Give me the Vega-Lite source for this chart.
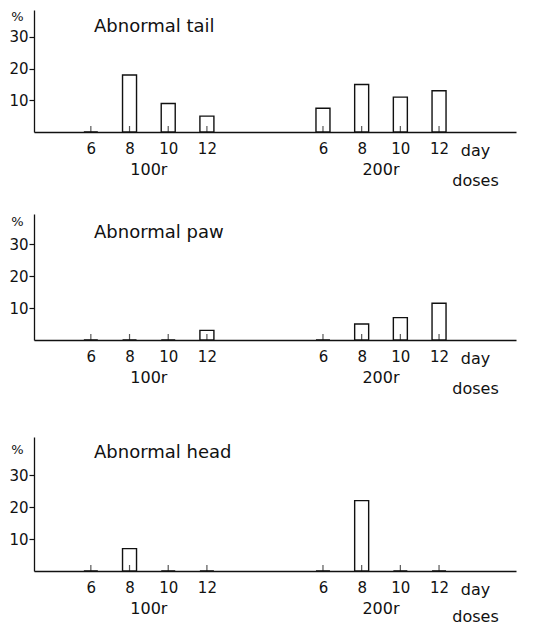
{
  "$schema": "https://vega.github.io/schema/vega-lite/v6.json",
  "padding": {"left": 8, "top": 10, "right": 5, "bottom": 0},
  "background": "white",
  "config": {
    "font": "DejaVu Sans",
    "view": {"stroke": null},
    "axis": {"grid": false, "domainColor": "#111", "tickColor": "#111", "labelColor": "#111", "titleColor": "#111", "labelFont": "DejaVu Sans", "titleFont": "DejaVu Sans", "titleFontWeight": "normal", "domainWidth": 1.3, "tickWidth": 1.2},
    "text": {"font": "DejaVu Sans", "fontSize": 16, "color": "#111"},
    "title": {"font": "DejaVu Sans", "fontSize": 18, "fontWeight": "normal", "color": "#111"}
  },
  "datasets": {
    "abn": [
      {"abnormality": "tail", "dose": "100r", "day": 6, "pct": 0},
      {"abnormality": "tail", "dose": "100r", "day": 8, "pct": 18},
      {"abnormality": "tail", "dose": "100r", "day": 10, "pct": 9},
      {"abnormality": "tail", "dose": "100r", "day": 12, "pct": 5},
      {"abnormality": "tail", "dose": "200r", "day": 6, "pct": 7.5},
      {"abnormality": "tail", "dose": "200r", "day": 8, "pct": 15},
      {"abnormality": "tail", "dose": "200r", "day": 10, "pct": 11},
      {"abnormality": "tail", "dose": "200r", "day": 12, "pct": 13},
      {"abnormality": "paw", "dose": "100r", "day": 6, "pct": 0},
      {"abnormality": "paw", "dose": "100r", "day": 8, "pct": 0},
      {"abnormality": "paw", "dose": "100r", "day": 10, "pct": 0},
      {"abnormality": "paw", "dose": "100r", "day": 12, "pct": 3},
      {"abnormality": "paw", "dose": "200r", "day": 6, "pct": 0},
      {"abnormality": "paw", "dose": "200r", "day": 8, "pct": 5},
      {"abnormality": "paw", "dose": "200r", "day": 10, "pct": 7},
      {"abnormality": "paw", "dose": "200r", "day": 12, "pct": 11.5},
      {"abnormality": "head", "dose": "100r", "day": 6, "pct": 0},
      {"abnormality": "head", "dose": "100r", "day": 8, "pct": 7},
      {"abnormality": "head", "dose": "100r", "day": 10, "pct": 0},
      {"abnormality": "head", "dose": "100r", "day": 12, "pct": 0},
      {"abnormality": "head", "dose": "200r", "day": 6, "pct": 0},
      {"abnormality": "head", "dose": "200r", "day": 8, "pct": 22},
      {"abnormality": "head", "dose": "200r", "day": 10, "pct": 0},
      {"abnormality": "head", "dose": "200r", "day": 12, "pct": 0}
    ]
  },
  "data": {"name": "abn"},
  "transform": [
    {"calculate": "(datum.dose == '200r' ? 6 : 0) + (datum.day - 6) / 2", "as": "pos"}
  ],
  "resolve": {"scale": {"y": "independent", "x": "independent"}},
  "spacing": 41,
  "vconcat": [
    {
      "spacing": 26,
      "resolve": {"scale": {"y": "independent", "x": "independent"}},
      "vconcat": [
        {
          "width": 482, "height": 122,
          "title": {"text": "Abnormal tail", "anchor": "start", "frame": "group", "offset": -40, "dx": 60, "baseline": "alphabetic"},
          "transform": [{"filter": "datum.abnormality == 'tail'"}],
          "layer": [
            {
              "mark": {"type": "bar", "size": 14, "fill": "white", "stroke": "#111", "strokeWidth": 1.4},
              "encoding": {
                "x": {"field": "pos", "type": "quantitative", "scale": {"domain": [-1.34, 10.86], "nice": false, "zero": false},
                  "axis": {"values": [0, 1, 2, 3, 6, 7, 8, 9], "labelExpr": "['6','8','10','12'][datum.value % 6]", "ticks": false, "labelPadding": 9, "labelFontSize": 15, "title": ["day", "doses"], "titleFontSize": 16, "titleX": 441, "titleY": 23, "titleAlign": "center", "titleBaseline": "alphabetic", "titleLineHeight": 30}},
                "y": {"field": "pct", "type": "quantitative", "scale": {"domain": [0, 38.5], "nice": false},
                  "axis": {"values": [10, 20, 30], "tickSize": 5, "labelPadding": 1, "labelFontSize": 15, "title": "%", "titleAngle": 0, "titleX": -17, "titleY": 6, "titleAlign": "center", "titleBaseline": "middle", "titleFontSize": 13}}
              }
            },
            {
              "mark": {"type": "tick", "orient": "vertical", "size": 6, "thickness": 1.2, "yOffset": -3, "color": "#111"},
              "encoding": {"x": {"field": "pos", "type": "quantitative"}, "y": {"datum": 0}}
            },
            {
              "mark": {"type": "text", "dy": 38, "baseline": "middle", "align": "center"},
              "encoding": {
                "x": {"aggregate": "mean", "field": "pos", "type": "quantitative"},
                "y": {"datum": 0},
                "yOffset": {"condition": {"test": "datum.dose == '200r'", "value": 10}, "value": 0},
                "text": {"field": "dose"}
              }
            }
          ]
        },
        {
          "width": 482, "height": 126,
          "title": {"text": "Abnormal paw", "anchor": "start", "frame": "group", "offset": -42, "dx": 60, "baseline": "alphabetic"},
          "transform": [{"filter": "datum.abnormality == 'paw'"}],
          "layer": [
            {
              "mark": {"type": "bar", "size": 14, "fill": "white", "stroke": "#111", "strokeWidth": 1.4},
              "encoding": {
                "x": {"field": "pos", "type": "quantitative", "scale": {"domain": [-1.34, 10.86], "nice": false, "zero": false},
                  "axis": {"values": [0, 1, 2, 3, 6, 7, 8, 9], "labelExpr": "['6','8','10','12'][datum.value % 6]", "ticks": false, "labelPadding": 9, "labelFontSize": 15, "title": ["day", "doses"], "titleFontSize": 16, "titleX": 441, "titleY": 23, "titleAlign": "center", "titleBaseline": "alphabetic", "titleLineHeight": 30}},
                "y": {"field": "pct", "type": "quantitative", "scale": {"domain": [0, 39.4], "nice": false},
                  "axis": {"values": [10, 20, 30], "tickSize": 5, "labelPadding": 1, "labelFontSize": 15, "title": "%", "titleAngle": 0, "titleX": -17, "titleY": 7, "titleAlign": "center", "titleBaseline": "middle", "titleFontSize": 13}}
              }
            },
            {
              "mark": {"type": "tick", "orient": "vertical", "size": 6, "thickness": 1.2, "yOffset": -3, "color": "#111"},
              "encoding": {"x": {"field": "pos", "type": "quantitative"}, "y": {"datum": 0}}
            },
            {
              "mark": {"type": "text", "dy": 38, "baseline": "middle", "align": "center"},
              "encoding": {
                "x": {"aggregate": "mean", "field": "pos", "type": "quantitative"},
                "y": {"datum": 0},
                "yOffset": {"condition": {"test": "datum.dose == '200r'", "value": 10}, "value": 0},
                "text": {"field": "dose"}
              }
            }
          ]
        }
      ]
    },
    {
      "width": 482, "height": 134,
      "title": {"text": "Abnormal head", "anchor": "start", "frame": "group", "offset": -39, "dx": 60, "baseline": "alphabetic"},
      "transform": [{"filter": "datum.abnormality == 'head'"}],
      "layer": [
        {
          "mark": {"type": "bar", "size": 14, "fill": "white", "stroke": "#111", "strokeWidth": 1.4},
          "encoding": {
            "x": {"field": "pos", "type": "quantitative", "scale": {"domain": [-1.34, 10.86], "nice": false, "zero": false},
              "axis": {"values": [0, 1, 2, 3, 6, 7, 8, 9], "labelExpr": "['6','8','10','12'][datum.value % 6]", "ticks": false, "labelPadding": 9, "labelFontSize": 15, "title": ["day", "doses"], "titleFontSize": 16, "titleX": 441, "titleY": 23, "titleAlign": "center", "titleBaseline": "alphabetic", "titleLineHeight": 27}},
            "y": {"field": "pct", "type": "quantitative", "scale": {"domain": [0, 41.9], "nice": false},
              "axis": {"values": [10, 20, 30], "tickSize": 5, "labelPadding": 1, "labelFontSize": 15, "title": "%", "titleAngle": 0, "titleX": -17, "titleY": 12, "titleAlign": "center", "titleBaseline": "middle", "titleFontSize": 13}}
          }
        },
        {
          "mark": {"type": "tick", "orient": "vertical", "size": 6, "thickness": 1.2, "yOffset": -3, "color": "#111"},
          "encoding": {"x": {"field": "pos", "type": "quantitative"}, "y": {"datum": 0}}
        },
        {
          "mark": {"type": "text", "dy": 38, "baseline": "middle", "align": "center"},
          "encoding": {
            "x": {"aggregate": "mean", "field": "pos", "type": "quantitative"},
            "y": {"datum": 0},
            "yOffset": {"condition": {"test": "datum.dose == '200r'", "value": 8}, "value": 0},
            "text": {"field": "dose"}
          }
        }
      ]
    }
  ]
}
